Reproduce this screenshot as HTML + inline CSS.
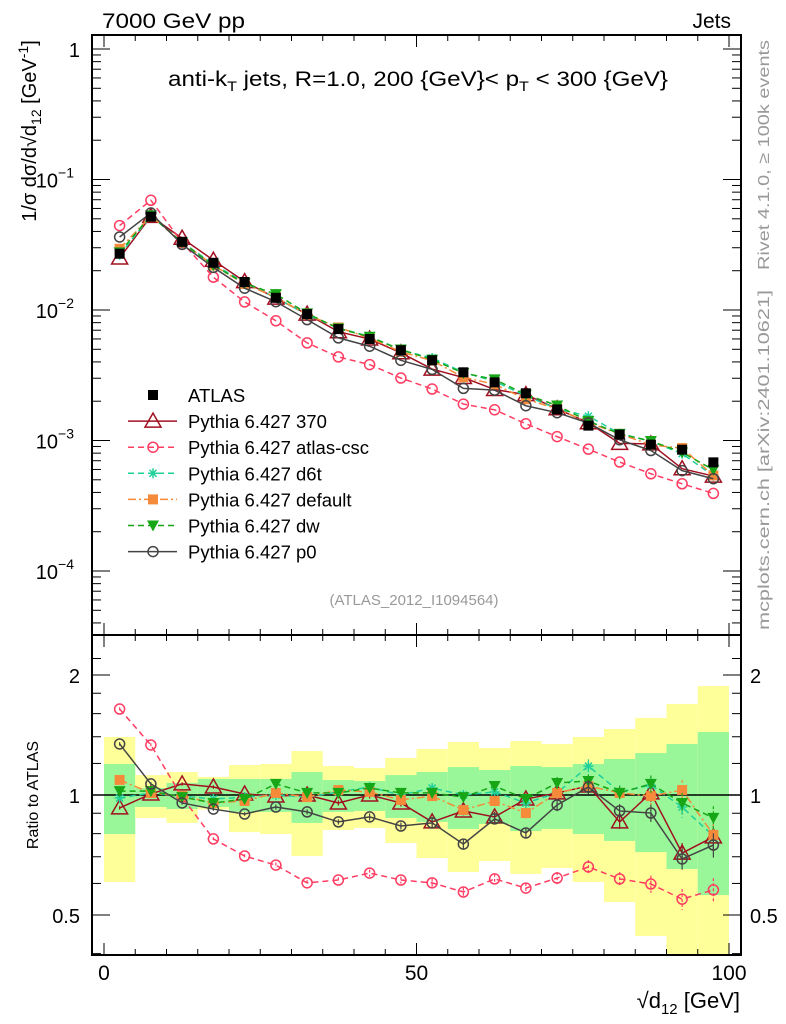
<!DOCTYPE html>
<html><head><meta charset="utf-8"><style>
body{margin:0;background:#fff;}
svg{display:block;font-family:"Liberation Sans",sans-serif;}
</style></head><body>
<svg id="c" width="786" height="1024" viewBox="0 0 786 1024" xmlns="http://www.w3.org/2000/svg">
<g id="bands"></g>
<g id="grid"></g>
<g id="series"></g>
<rect x="92" y="35" width="649" height="600" fill="none" stroke="#000" stroke-width="2"/>
<rect x="92" y="635" width="649" height="320" fill="none" stroke="#000" stroke-width="2"/>
<text x="102" y="28" font-size="21" textLength="143" lengthAdjust="spacingAndGlyphs">7000 GeV pp</text>
<text x="731" y="28" font-size="21" text-anchor="end">Jets</text>
<text x="168" y="86" font-size="21" textLength="500" lengthAdjust="spacingAndGlyphs">anti-k<tspan font-size="14" dy="5">T</tspan><tspan dy="-5"> jets, R=1.0, 200 {GeV}&lt; p</tspan><tspan font-size="14" dy="5">T</tspan><tspan dy="-5"> &lt; 300 {GeV}</tspan></text>
<text x="414" y="605" font-size="15" fill="#999" text-anchor="middle">(ATLAS_2012_I1094564)</text>
<text transform="translate(769,40) rotate(-90)" font-size="16" fill="#999" text-anchor="end" textLength="230" lengthAdjust="spacingAndGlyphs">Rivet 4.1.0, ≥ 100k events</text>
<text transform="translate(769,630) rotate(-90)" font-size="16" fill="#999" textLength="340" lengthAdjust="spacingAndGlyphs">mcplots.cern.ch [arXiv:2401.10621]</text>
<text transform="translate(36,131) rotate(-90)" font-size="20" text-anchor="middle">1/σ dσ/d√d<tspan font-size="14" dy="5">12</tspan><tspan dy="-5"> [GeV</tspan><tspan font-size="14" dy="-8">-1</tspan><tspan dy="8">]</tspan></text>
<text transform="translate(38,795) rotate(-90)" font-size="16" text-anchor="middle">Ratio to ATLAS</text>
<text x="740" y="1008" font-size="22" text-anchor="end">√d<tspan font-size="15" dy="6">12</tspan><tspan dy="-6"> [GeV]</tspan></text>
<g id="legend"></g>
</svg>
<script>
const NS="http://www.w3.org/2000/svg";
const binCenters=[2.5,7.5,12.5,17.5,22.5,27.5,32.5,37.5,42.5,47.5,52.5,57.5,62.5,67.5,72.5,77.5,82.5,87.5,92.5,97.5];
const atlasValues=[0.027,0.0519,0.0333,0.023,0.0164,0.0124,0.0093,0.00714,0.00599,0.00492,0.00412,0.00333,0.00279,0.0023,0.00173,0.0013,0.00111,0.00093,0.00085,0.00068];
const yellowHi=[1.398,1.122,1.142,1.11,1.189,1.196,1.289,1.182,1.169,1.238,1.304,1.358,1.312,1.366,1.343,1.398,1.464,1.561,1.692,1.876];
const yellowLo=[0.605,0.876,0.851,0.92,0.807,0.798,0.703,0.817,0.827,0.758,0.695,0.641,0.683,0.634,0.656,0.605,0.539,0.443,0.3,0.3];
const greenHi=[1.196,1.041,1.072,1.097,1.097,1.097,1.142,1.09,1.084,1.122,1.142,1.175,1.155,1.182,1.175,1.196,1.231,1.274,1.343,1.439];
const greenLo=[0.798,0.933,0.922,0.933,0.907,0.907,0.851,0.907,0.912,0.876,0.856,0.822,0.846,0.812,0.822,0.798,0.767,0.719,0.652,0.561];
const ratio370=[0.928,1.006,1.066,1.047,1.006,0.994,1,0.955,1,0.955,0.856,0.912,0.881,0.977,1.012,1.053,0.856,1.012,0.715,0.785];
const ratioCsc=[1.643,1.335,0.988,0.776,0.703,0.667,0.602,0.612,0.637,0.612,0.602,0.571,0.616,0.584,0.619,0.66,0.616,0.598,0.548,0.578];
const ratioD6t=[0.983,1.012,0.994,0.977,0.988,1,0.988,1.018,1.047,1,1.041,1,1.018,0.955,1.012,1.182,1.018,1.059,0.933,0.789];
const ratioDefault=[1.091,1.012,0.994,0.955,0.966,1.012,0.988,1.029,1.018,0.972,0.994,0.917,0.966,0.901,1.012,1.053,1.012,0.994,1.029,0.794];
const ratioDw=[1.023,1.023,0.988,0.955,0.977,1.066,1.012,1.012,1.041,1.012,1.012,0.988,1.053,0.977,1.072,1.084,1.012,1.066,0.955,0.876];
const ratioP0=[1.343,1.066,0.955,0.922,0.896,0.933,0.907,0.856,0.881,0.836,0.851,0.753,0.871,0.803,0.944,1.047,0.912,0.901,0.691,0.749];
const mcRelErr=[0.01,0.01,0.01,0.01,0.01,0.015,0.015,0.015,0.02,0.02,0.025,0.025,0.03,0.03,0.035,0.04,0.04,0.05,0.06,0.07];
const xTicks=[0,50,100];
const mainYTicks=[0,-1,-2,-3,-4];
const ratioTicks=[0.5,1,2];

const X=v=>104+v*6.25;
const YM=v=>49-Math.log10(v)*130.5;
const YR=v=>795-Math.log2(v)*120;
function el(tag,attrs,parent){const e=document.createElementNS(NS,tag);for(const k in attrs)e.setAttribute(k,attrs[k]);parent.appendChild(e);return e;}
const bands=document.getElementById('bands'),grid=document.getElementById('grid'),series=document.getElementById('series'),legend=document.getElementById('legend');

binCenters.forEach((c,i)=>{
  const x0=X(c-2.5),w=6.25*5;
  let r=el('rect',{x:x0,y:YR(yellowHi[i]),width:w,height:Math.min(954,YR(yellowLo[i]))-YR(yellowHi[i]),fill:'#ffff99'},bands);
  
  
  r=el('rect',{x:x0,y:YR(greenHi[i]),width:w,height:YR(greenLo[i])-YR(greenHi[i]),fill:'#99f799'},bands);
  
  
});
el('line',{x1:92,x2:741,y1:YR(1),y2:YR(1),stroke:'#000','stroke-width':1.5},grid);

for(let v=0;v<=100;v+=5){
  const major=v%50===0, len=major?12:6;
  [635,955].forEach(yb=>{el('line',{x1:X(v),x2:X(v),y1:yb,y2:yb-len,stroke:'#000'},grid);});
  el('line',{x1:X(v),x2:X(v),y1:35,y2:35+len,stroke:'#000'},grid);
  el('line',{x1:X(v),x2:X(v),y1:635,y2:635+len,stroke:'#000'},grid);
}
xTicks.forEach(v=>{const t=el('text',{x:X(v),y:980,'font-size':21,'text-anchor':'middle'},grid);t.textContent=v;

});
for(let d=0;d>=-5;d--){for(let m=1;m<10;m++){const v=m*Math.pow(10,d);const y=YM(v);if(y<36||y>634)continue;const len=m===1?18:9;
 el('line',{x1:92,x2:92+len,y1:y,y2:y,stroke:'#000'},grid);el('line',{x1:741,x2:741-len,y1:y,y2:y,stroke:'#000'},grid);}}
mainYTicks.forEach(d=>{const y=YM(Math.pow(10,d));const t=el('text',{x:d===0?80:74,y:y+8,'font-size':20,'text-anchor':'end'},grid);
 if(d===0)t.textContent='1';else{t.textContent='10';const s=el('tspan',{'font-size':14,dy:-10},t);s.textContent=String(d).replace('-','−');}
 
 });
[0.4,0.5,0.6,0.7,0.8,0.9,1,1.2,1.4,1.6,1.8,2,2.2].forEach(v=>{const y=YR(v);if(y<636||y>954)return;const len=(v===0.5||v===1||v===2)?18:9;
 el('line',{x1:92,x2:92+len,y1:y,y2:y,stroke:'#000'},grid);el('line',{x1:741,x2:741-len,y1:y,y2:y,stroke:'#000'},grid);});
ratioTicks.forEach(v=>{const y=YR(v)+8;
 let t=el('text',{x:80,y:y,'font-size':20,'text-anchor':'end'},grid);t.textContent=v;
 
 
 t=el('text',{x:750,y:y,'font-size':20},grid);t.textContent=v;
 
 });

function marker(type,x,y,col,g){
  if(type==='sq')el('rect',{x:x-5,y:y-5,width:10,height:10,fill:col},g);
  else if(type==='tri')el('path',{d:`M${x} ${y-8}L${x+8} ${y+6}L${x-8} ${y+6}Z`,fill:'none',stroke:col,'stroke-width':1.5},g);
  else if(type==='circ')el('circle',{cx:x,cy:y,r:5,fill:'none',stroke:col,'stroke-width':1.5},g);
  else if(type==='star'){for(let a=0;a<4;a++){const an=a*Math.PI/4;el('line',{x1:x-5*Math.cos(an),y1:y-5*Math.sin(an),x2:x+5*Math.cos(an),y2:y+5*Math.sin(an),stroke:col,'stroke-width':1.5},g);}}
  else if(type==='dtri')el('path',{d:`M${x-6} ${y-5}L${x+6} ${y-5}L${x} ${y+6}Z`,fill:col},g);
}
const mcs=[
 {name:'Pythia 6.427 370',key:'370',r:ratio370,col:'#a01020',dash:'',m:'tri'},
 {name:'Pythia 6.427 atlas-csc',key:'atlas-csc',r:ratioCsc,col:'#ff3d62',dash:'6,4',m:'circ'},
 {name:'Pythia 6.427 d6t',key:'d6t',r:ratioD6t,col:'#20d09a',dash:'6,4',m:'star'},
 {name:'Pythia 6.427 default',key:'default',r:ratioDefault,col:'#f58a3a',dash:'8,3,2,3',m:'sq'},
 {name:'Pythia 6.427 dw',key:'dw',r:ratioDw,col:'#16a616',dash:'6,4',m:'dtri'},
 {name:'Pythia 6.427 p0',key:'p0',r:ratioP0,col:'#444',dash:'',m:'circ'}];
mcs.forEach(s=>{
  const g=el('g',{},series);
  
  
  const mp=binCenters.map((c,i)=>[X(c),YM(atlasValues[i]*s.r[i])]);
  const rp=binCenters.map((c,i)=>[X(c),YR(s.r[i])]);
  [mp,rp].forEach((pts,k)=>{
    el('polyline',{points:pts.map(p=>p.join(',')).join(' '),fill:'none',stroke:s.col,'stroke-width':1.5,'stroke-dasharray':s.dash},g);
    pts.forEach((p,i)=>{
      if(k===1){const e=s.r[i]*mcRelErr[i];el('line',{x1:p[0],x2:p[0],y1:YR(s.r[i]+e),y2:YR(s.r[i]-e),stroke:s.col,'stroke-width':1.2,'stroke-dasharray':s.dash?'3,2':''},g);}
      marker(s.m,p[0],p[1],s.col,g);});
  });
});
const ga=el('g',{},series);


binCenters.forEach((c,i)=>marker('sq',X(c),YM(atlasValues[i]),'#000',ga));
const legRows=[{name:'ATLAS',m:'sq',col:'#000',dash:null}].concat(mcs);
legRows.forEach((s,i)=>{
  const y=395+i*26.1;
  const g=el('g',{},legend);
  
  
  if(s.dash!==null)el('line',{x1:128,x2:177,y1:y,y2:y,stroke:s.col,'stroke-width':1.5,'stroke-dasharray':s.dash},g);
  marker(s.m,153,y,s.col,g);
  const t=el('text',{x:188,y:y+7,'font-size':18.5},g);t.textContent=s.name;
});
</script>
</body></html>
